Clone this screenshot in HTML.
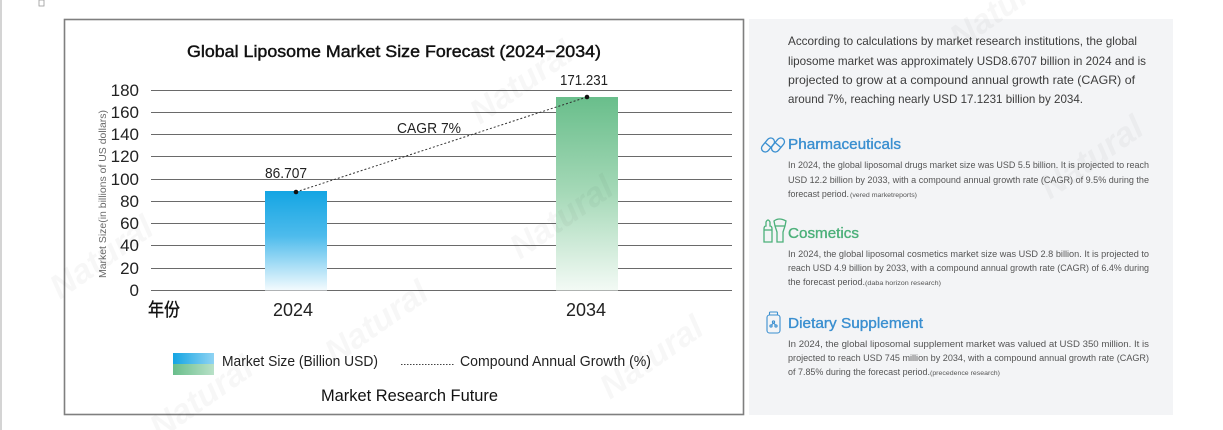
<!DOCTYPE html>
<html>
<head>
<meta charset="utf-8">
<style>
  html,body{margin:0;padding:0;background:#fff;}
  body{width:1223px;height:430px;overflow:hidden;}
  svg{display:block;}
  text{font-family:"Liberation Sans","Noto Sans CJK SC",sans-serif;}
</style>
</head>
<body>
<svg width="1223" height="430" viewBox="0 0 1223 430" xmlns="http://www.w3.org/2000/svg">
  <defs>
    <linearGradient id="gBlue" x1="0" y1="0" x2="0" y2="1">
      <stop offset="0" stop-color="#14a5e3"/>
      <stop offset="0.45" stop-color="#4dbbec"/>
      <stop offset="1" stop-color="#f4fbfe"/>
    </linearGradient>
    <linearGradient id="gGreen" x1="0" y1="0" x2="0" y2="1">
      <stop offset="0" stop-color="#69be8b"/>
      <stop offset="0.5" stop-color="#a6d9b8"/>
      <stop offset="1" stop-color="#f3faf5"/>
    </linearGradient>
    <linearGradient id="lgBlue" x1="0" y1="0" x2="1" y2="0">
      <stop offset="0" stop-color="#14a5e3"/>
      <stop offset="1" stop-color="#8fd3f3"/>
    </linearGradient>
    <linearGradient id="lgGreen" x1="0" y1="0" x2="1" y2="0">
      <stop offset="0" stop-color="#69be8b"/>
      <stop offset="1" stop-color="#b9e1c8"/>
    </linearGradient>
  </defs>

  <!-- left edge line and tiny glyph -->
  <rect x="0" y="0" width="2" height="430" fill="#d4d4d4"/>
  <rect x="39" y="0" width="5" height="6" fill="none" stroke="#999" stroke-width="0.8"/>

  <!-- chart frame -->
  <rect x="64.5" y="19.5" width="679" height="395" fill="#fff" stroke="#7f7f7f" stroke-width="1.6"/>

  <!-- title -->
  <text x="187" y="57" font-size="17" fill="#111" stroke="#111" stroke-width="0.45" textLength="414" lengthAdjust="spacingAndGlyphs">Global Liposome Market Size Forecast (2024−2034)</text>

  <!-- gridlines -->
  <g stroke="#6a6a6a" stroke-width="1">
    <line x1="151" y1="90.5" x2="732" y2="90.5"/>
    <line x1="151" y1="112.5" x2="732" y2="112.5"/>
    <line x1="151" y1="134.5" x2="732" y2="134.5"/>
    <line x1="151" y1="156.5" x2="732" y2="156.5"/>
    <line x1="151" y1="179.5" x2="732" y2="179.5"/>
    <line x1="151" y1="201.5" x2="732" y2="201.5"/>
    <line x1="151" y1="223.5" x2="732" y2="223.5"/>
    <line x1="151" y1="245.5" x2="732" y2="245.5"/>
    <line x1="151" y1="268.5" x2="732" y2="268.5"/>
    <line x1="151" y1="290.5" x2="732" y2="290.5"/>
  </g>

  <!-- y tick labels -->
  <g font-size="17" fill="#222" text-anchor="end">
    <text x="139" y="96">180</text>
    <text x="139" y="118">160</text>
    <text x="139" y="140">140</text>
    <text x="139" y="162">120</text>
    <text x="139" y="185">100</text>
    <text x="139" y="207">80</text>
    <text x="139" y="229">60</text>
    <text x="139" y="251">40</text>
    <text x="139" y="274">20</text>
    <text x="139" y="296">0</text>
  </g>

  <!-- y axis title -->
  <text transform="translate(106,194) rotate(-90)" x="0" y="0" font-size="10" fill="#6a6a6a" text-anchor="middle" textLength="168" lengthAdjust="spacingAndGlyphs">Market Size(in billions of US dollars)</text>

  <!-- bars -->
  <rect x="265" y="191" width="62" height="99.5" fill="url(#gBlue)"/>
  <rect x="556" y="97" width="62" height="193.5" fill="url(#gGreen)"/>

  <!-- CAGR dotted line -->
  <line x1="296" y1="192" x2="587" y2="97" stroke="#333" stroke-width="1" stroke-dasharray="2,2"/>
  <circle cx="296" cy="192" r="2.3" fill="#111"/>
  <circle cx="587" cy="97" r="2.3" fill="#111"/>

  <!-- value labels -->
  <text x="265" y="178" font-size="15" fill="#222" textLength="42" lengthAdjust="spacingAndGlyphs">86.707</text>
  <text x="560" y="85" font-size="15" fill="#222" textLength="48" lengthAdjust="spacingAndGlyphs">171.231</text>
  <text x="397" y="133" font-size="15" fill="#222" textLength="64" lengthAdjust="spacingAndGlyphs">CAGR 7%</text>

  <!-- x labels -->
  <text x="148" y="316" font-size="18" fill="#111" stroke="#111" stroke-width="0.4" textLength="32" lengthAdjust="spacingAndGlyphs">年份</text>
  <text x="273" y="316" font-size="18" fill="#222" textLength="40" lengthAdjust="spacingAndGlyphs">2024</text>
  <text x="566" y="316" font-size="18" fill="#222" textLength="40" lengthAdjust="spacingAndGlyphs">2034</text>

  <!-- legend -->
  <rect x="173" y="353" width="41" height="11" fill="url(#lgBlue)"/>
  <rect x="173" y="364" width="41" height="11" fill="url(#lgGreen)"/>
  <text x="222" y="366" font-size="15" fill="#222" textLength="156" lengthAdjust="spacingAndGlyphs">Market Size (Billion USD)</text>
  <line x1="401" y1="364.5" x2="455" y2="364.5" stroke="#444" stroke-width="1" stroke-dasharray="1.5,1.5"/>
  <text x="460" y="366" font-size="15" fill="#222" textLength="191" lengthAdjust="spacingAndGlyphs">Compound Annual Growth (%)</text>

  <text x="321" y="401" font-size="17" fill="#111" textLength="177" lengthAdjust="spacingAndGlyphs">Market Research Future</text>

  <!-- right panel -->
  <rect x="749" y="19" width="424" height="396" fill="#f3f4f6"/>

  <g font-size="12" fill="#3c3c3c">
    <text x="788" y="45" textLength="349" lengthAdjust="spacingAndGlyphs">According to calculations by market research institutions, the global</text>
    <text x="788" y="65" textLength="358" lengthAdjust="spacingAndGlyphs">liposome market was approximately USD8.6707 billion in 2024 and is</text>
    <text x="788" y="84" textLength="347" lengthAdjust="spacingAndGlyphs">projected to grow at a compound annual growth rate (CAGR) of</text>
    <text x="788" y="103" textLength="295" lengthAdjust="spacingAndGlyphs">around 7%, reaching nearly USD 17.1231 billion by 2034.</text>
  </g>

  <!-- Pharmaceuticals -->
  <g fill="none" stroke="#3a8fd0" stroke-width="1.3">
    <g transform="translate(768,145) rotate(-50)">
      <rect x="-8" y="-3.8" width="16" height="7.6" rx="3.8"/>
      <line x1="0" y1="-3.8" x2="0" y2="3.8"/>
    </g>
    <g transform="translate(778,145) rotate(-50)">
      <rect x="-8" y="-3.8" width="16" height="7.6" rx="3.8"/>
      <line x1="0" y1="-3.8" x2="0" y2="3.8"/>
    </g>
  </g>
  <text x="788" y="149" font-size="15" fill="#3a8fd0" stroke="#3a8fd0" stroke-width="0.35" textLength="113" lengthAdjust="spacingAndGlyphs">Pharmaceuticals</text>
  <g font-size="9" fill="#555">
    <text x="788" y="168" textLength="361" lengthAdjust="spacingAndGlyphs">In 2024, the global liposomal drugs market size was USD 5.5 billion. It is projected to reach</text>
    <text x="788" y="183" textLength="361" lengthAdjust="spacingAndGlyphs">USD 12.2 billion by 2033, with a compound annual growth rate (CAGR) of 9.5% during the</text>
    <text x="788" y="197" textLength="61" lengthAdjust="spacingAndGlyphs">forecast period.</text>
    <text x="850" y="197" font-size="6" textLength="67" lengthAdjust="spacingAndGlyphs">(vered marketreports)</text>
  </g>

  <!-- Cosmetics -->
  <g fill="none" stroke="#4cb07a" stroke-width="1.3">
    <path d="M764 242 V229 Q764 226 766 226 L766 222 Q768 218 770 222 L770 226 Q772 226 772 229 V242 Z"/>
    <line x1="764" y1="230" x2="772" y2="230"/>
    <path d="M777 242 V232 L775 226 L774 221 Q779 217 786 221 L785 226 L783 232 V242 Z"/>
    <line x1="775" y1="226" x2="785" y2="226"/>
  </g>
  <text x="788" y="238" font-size="15" fill="#4cb07a" stroke="#4cb07a" stroke-width="0.35" textLength="71" lengthAdjust="spacingAndGlyphs">Cosmetics</text>
  <g font-size="9" fill="#555">
    <text x="788" y="257" textLength="361" lengthAdjust="spacingAndGlyphs">In 2024, the global liposomal cosmetics market size was USD 2.8 billion. It is projected to</text>
    <text x="788" y="271" textLength="361" lengthAdjust="spacingAndGlyphs">reach USD 4.9 billion by 2033, with a compound annual growth rate (CAGR) of 6.4% during</text>
    <text x="788" y="285" textLength="77" lengthAdjust="spacingAndGlyphs">the forecast period.</text>
    <text x="865" y="285" font-size="6" textLength="76" lengthAdjust="spacingAndGlyphs">(daba horizon research)</text>
  </g>

  <!-- Dietary Supplement -->
  <g fill="none" stroke="#3a8fd0" stroke-width="1.1">
    <rect x="769.5" y="312" width="8" height="3" rx="0.8"/>
    <rect x="767" y="315" width="13" height="18" rx="2.5"/>
    <circle cx="773.5" cy="322" r="1.1"/>
    <circle cx="771" cy="326" r="1.1"/>
    <circle cx="776" cy="326" r="1.1"/>
    <path d="M773.5 323 L771.5 325 M773.5 323 L775.5 325"/>
  </g>
  <text x="788" y="328" font-size="15" fill="#3a8fd0" stroke="#3a8fd0" stroke-width="0.35" textLength="135" lengthAdjust="spacingAndGlyphs">Dietary Supplement</text>
  <g font-size="9" fill="#555">
    <text x="788" y="347" textLength="361" lengthAdjust="spacingAndGlyphs">In 2024, the global liposomal supplement market was valued at USD 350 million. It is</text>
    <text x="788" y="361" textLength="361" lengthAdjust="spacingAndGlyphs">projected to reach USD 745 million by 2034, with a compound annual growth rate (CAGR)</text>
    <text x="788" y="375" textLength="142" lengthAdjust="spacingAndGlyphs">of 7.85% during the forecast period.</text>
    <text x="930" y="375" font-size="6" textLength="70" lengthAdjust="spacingAndGlyphs">(precedence research)</text>
  </g>

  <!-- faint watermarks -->
  <g font-size="34" font-weight="bold" font-style="italic" fill="#000" fill-opacity="0.03">
    <text transform="translate(480,125) rotate(-35)">Natural</text>
    <text transform="translate(60,300) rotate(-35)">Natural</text>
    <text transform="translate(335,365) rotate(-35)">Natural</text>
    <text transform="translate(610,400) rotate(-35)">Natural</text>
    <text transform="translate(1050,200) rotate(-35)">Natural</text>
    <text transform="translate(960,50) rotate(-35)">Natural</text>
    <text transform="translate(520,260) rotate(-35)">Natural</text>
    <text transform="translate(160,440) rotate(-35)">Natural</text>
  </g>
</svg>
</body>
</html>
